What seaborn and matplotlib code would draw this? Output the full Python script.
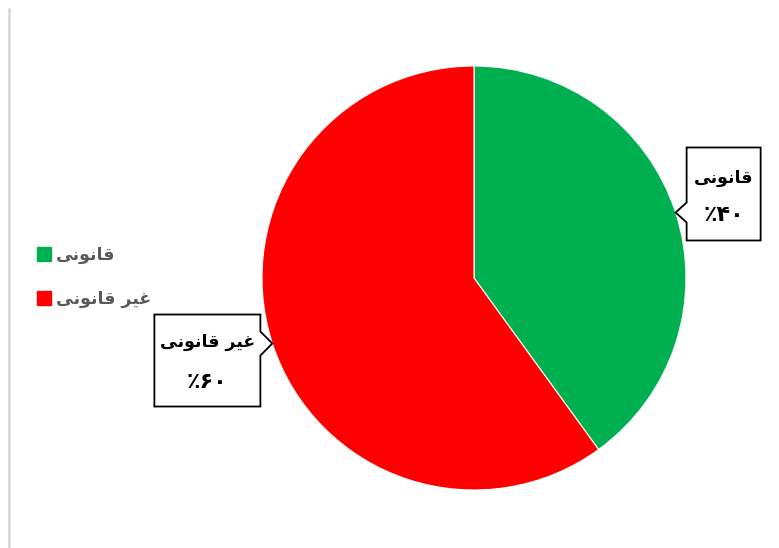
import numpy as np
import matplotlib
matplotlib.use("Agg")
import matplotlib.pyplot as plt
import seaborn as sns
from matplotlib.patches import Polygon
from matplotlib.lines import Line2D

# ---- data ----
# Labels in visual (shaped, left-to-right) order of Arabic presentation forms
categories = ["\uFEF0\uFEE7\uFEEE\uFEE7\uFE8E\uFED7",                       # قانونی
              "\uFEF0\uFEE7\uFEEE\uFEE7\uFE8E\uFED7 \uFEAE\uFEF4\uFECF"]    # غیر قانونی
values = [40, 60]
pct_labels = ["\u066A\u06F4\u06F0", "\u066A\u06F6\u06F0"]                   # ٪۴۰ ، ٪۶۰
colors = ["#00B050", "#FF0000"]

sns.set_theme(style="white")
plt.rcParams["font.family"] = ["DejaVu Sans"]

W, H = 779, 548
fig = plt.figure(figsize=(W / 100, H / 100), dpi=100)
ax = fig.add_axes([0, 0, 1, 1])

cx, cy, R = 474, 270, 212
wedges, _ = ax.pie(values, colors=colors, startangle=90, counterclock=False,
                   center=(cx, cy), radius=R,
                   wedgeprops=dict(edgecolor="white", linewidth=0.8))

ax.set_xlim(0, W)
ax.set_ylim(0, H)
ax.set_aspect("auto")
ax.axis("off")

# left chart border line
ax.plot([9, 9], [0, H - 8], color="#D9D9D9", lw=2, solid_capstyle="butt")

# callouts
total = sum(values)
start = 90.0
specs = [
    # side, box width, top offset, bottom offset, gap, notch half, text rows
    dict(side="right", w=74, top=65, bot=28, gap=11, notch=10, rows=(0.33, 0.73)),
    dict(side="left", w=106, top=29, bot=63, gap=12, notch=12, rows=(0.30, 0.73)),
]
for i, (v, sp) in enumerate(zip(values, specs)):
    sweep = 360.0 * v / total
    mid = np.deg2rad(start - sweep / 2)
    start -= sweep
    tx, ty = cx + R * np.cos(mid), cy + R * np.sin(mid)
    top, bot = ty + sp["top"], ty - sp["bot"]
    n = sp["notch"]
    if sp["side"] == "right":
        x0 = tx + sp["gap"]
        x1 = x0 + sp["w"]
        pts = [(x0, top), (x1, top), (x1, bot), (x0, bot),
               (x0, ty - n), (tx, ty), (x0, ty + n)]
    else:
        x1 = tx - sp["gap"]
        x0 = x1 - sp["w"]
        pts = [(x0, top), (x1, top), (x1, ty + n), (tx, ty),
               (x1, ty - n), (x1, bot), (x0, bot)]
    ax.add_patch(Polygon(pts, closed=True, facecolor="white",
                         edgecolor="black", lw=1.3, zorder=5))
    mx = (x0 + x1) / 2
    h = top - bot
    ax.text(mx, top - h * sp["rows"][0], categories[i], ha="center", va="center",
            fontsize=12.5, fontweight="bold", color="black", zorder=6)
    ax.text(mx, top - h * sp["rows"][1], pct_labels[i], ha="center", va="center",
            fontsize=16, fontweight="bold", color="black", zorder=6)

# legend
handles = [Line2D([], [], marker="s", linestyle="none", markersize=9.5,
                  markerfacecolor=c, markeredgecolor=c) for c in colors]
leg = ax.legend(handles, categories, loc="upper left",
                bbox_to_anchor=(21 / W, 1 - 230 / H), frameon=False,
                handlelength=0.8, handletextpad=0.3, labelspacing=1.5,
                prop=dict(size=12.5, weight="bold"))
for t in leg.get_texts():
    t.set_color("#595959")

fig.savefig("out.png", dpi=100, facecolor="white")
